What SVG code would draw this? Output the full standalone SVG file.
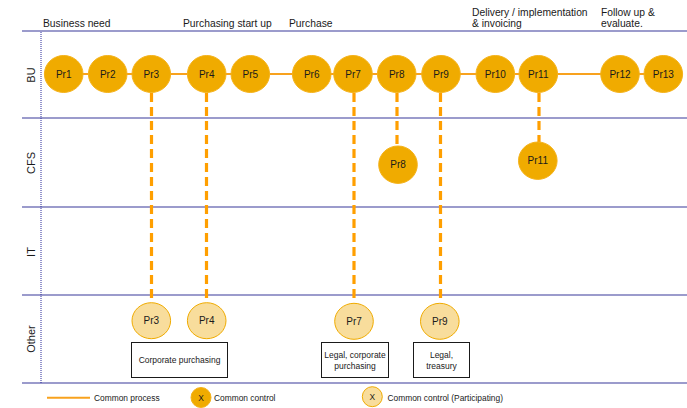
<svg xmlns="http://www.w3.org/2000/svg" width="687" height="408" viewBox="0 0 687 408">
  <style>
    text { font-family: "Liberation Sans", Arial, sans-serif; fill: #1a1a1a; }
    .hdr { font-size: 10.3px; }
    .lane { font-size: 11px; }
    .lbl { font-size: 10px; text-anchor: middle; dominant-baseline: central; }
    .box-t { font-size: 8.5px; text-anchor: middle; }
    .leg { font-size: 8.4px; }
    .sep { stroke: #9b9bcc; stroke-width: 2; }
    .proc { fill: #f0ab00; stroke: #f5b21a; stroke-width: 1; }
    .part { fill: #f8dd9c; stroke: #f0ab00; stroke-width: 1; }
    .flow { stroke: #f8a21e; stroke-width: 2; fill: none; }
    .link { stroke: #ff9f00; stroke-width: 3.2; stroke-dasharray: 9 5; fill: none; }
    .box { fill: #ffffff; stroke: #1a1a1a; stroke-width: 1; }
  </style>

  <!-- phase headings -->
  <g id="phases">
    <text class="hdr" x="43" y="27">Business need</text>
    <text class="hdr" x="183" y="27">Purchasing start up</text>
    <text class="hdr" x="289" y="27">Purchase</text>
    <text class="hdr" x="472" y="15.5">Delivery / implementation</text>
    <text class="hdr" x="472" y="27">&amp; invoicing</text>
    <text class="hdr" x="601" y="15.5">Follow up &amp;</text>
    <text class="hdr" x="601" y="27">evaluate.</text>
  </g>

  <!-- swimlanes -->
  <g id="lanes">
    <line class="sep" x1="22" y1="31" x2="687" y2="31"/>
    <line class="sep" x1="22" y1="118" x2="687" y2="118"/>
    <line class="sep" x1="22" y1="207" x2="687" y2="207"/>
    <line class="sep" x1="22" y1="295" x2="687" y2="295"/>
    <line class="sep" x1="22" y1="383" x2="687" y2="383"/>
    <line x1="41" y1="32" x2="41" y2="383" stroke="#2a2a9a" stroke-width="1" stroke-dasharray="1 1"/>
    <text class="lane" transform="translate(35 75) rotate(-90)" text-anchor="middle">BU</text>
    <text class="lane" transform="translate(35 163) rotate(-90)" text-anchor="middle">CFS</text>
    <text class="lane" transform="translate(35 252) rotate(-90)" text-anchor="middle">IT</text>
    <text class="lane" transform="translate(35 339) rotate(-90)" text-anchor="middle">Other</text>
  </g>

  <!-- connectors -->
  <g id="connectors">
    <line class="flow" x1="64" y1="74" x2="663" y2="74"/>
    <line class="link" x1="151.5" y1="93" x2="151.5" y2="303"/>
    <line class="link" x1="206.5" y1="93" x2="206.5" y2="303"/>
    <line class="link" x1="354" y1="93" x2="354" y2="303"/>
    <line class="link" x1="397" y1="93" x2="397" y2="146"/>
    <line class="link" x1="440.5" y1="93" x2="440.5" y2="303"/>
    <line class="link" x1="539" y1="93" x2="539" y2="142"/>
  </g>

  <!-- BU process steps -->
  <g id="bu-pr1"><ellipse class="proc" cx="63.7" cy="74" rx="19.3" ry="18.5"/><text class="lbl" x="63.7" y="74">Pr1</text></g>
  <g id="bu-pr2"><ellipse class="proc" cx="107.7" cy="74" rx="19.3" ry="18.5"/><text class="lbl" x="107.7" y="74">Pr2</text></g>
  <g id="bu-pr3"><ellipse class="proc" cx="151.3" cy="74" rx="19.3" ry="18.5"/><text class="lbl" x="151.3" y="74">Pr3</text></g>
  <g id="bu-pr4"><ellipse class="proc" cx="206.7" cy="74" rx="19.3" ry="18.5"/><text class="lbl" x="206.7" y="74">Pr4</text></g>
  <g id="bu-pr5"><ellipse class="proc" cx="250.3" cy="74" rx="19.3" ry="18.5"/><text class="lbl" x="250.3" y="74">Pr5</text></g>
  <g id="bu-pr6"><ellipse class="proc" cx="311.7" cy="74" rx="19.3" ry="18.5"/><text class="lbl" x="311.7" y="74">Pr6</text></g>
  <g id="bu-pr7"><ellipse class="proc" cx="353" cy="74" rx="19.3" ry="18.5"/><text class="lbl" x="353" y="74">Pr7</text></g>
  <g id="bu-pr8"><ellipse class="proc" cx="396.7" cy="74" rx="19.3" ry="18.5"/><text class="lbl" x="396.7" y="74">Pr8</text></g>
  <g id="bu-pr9"><ellipse class="proc" cx="441" cy="74" rx="19.3" ry="18.5"/><text class="lbl" x="441" y="74">Pr9</text></g>
  <g id="bu-pr10"><ellipse class="proc" cx="495.3" cy="74" rx="19.3" ry="18.5"/><text class="lbl" x="495.3" y="74">Pr10</text></g>
  <g id="bu-pr11"><ellipse class="proc" cx="538.3" cy="74" rx="19.3" ry="18.5"/><text class="lbl" x="538.3" y="74">Pr11</text></g>
  <g id="bu-pr12"><ellipse class="proc" cx="620" cy="74" rx="19.3" ry="18.5"/><text class="lbl" x="620" y="74">Pr12</text></g>
  <g id="bu-pr13"><ellipse class="proc" cx="663.3" cy="74" rx="19.3" ry="18.5"/><text class="lbl" x="663.3" y="74">Pr13</text></g>

  <!-- CFS steps -->
  <g id="cfs-pr8"><ellipse class="proc" cx="398" cy="164.7" rx="19.3" ry="18.7"/><text class="lbl" x="398" y="164.7">Pr8</text></g>
  <g id="cfs-pr11"><ellipse class="proc" cx="537.8" cy="160.7" rx="19.3" ry="18.7"/><text class="lbl" x="537.8" y="160.7">Pr11</text></g>

  <!-- Other: participating steps -->
  <g id="oth-pr3"><ellipse class="part" cx="151.3" cy="320.7" rx="19.3" ry="18"/><text class="lbl" x="151.3" y="320.7">Pr3</text></g>
  <g id="oth-pr4"><ellipse class="part" cx="206.7" cy="320.7" rx="19.3" ry="18"/><text class="lbl" x="206.7" y="320.7">Pr4</text></g>
  <g id="oth-pr7"><ellipse class="part" cx="354" cy="321.3" rx="19.3" ry="18"/><text class="lbl" x="354" y="321.3">Pr7</text></g>
  <g id="oth-pr9"><ellipse class="part" cx="439.8" cy="321.3" rx="19.3" ry="18"/><text class="lbl" x="439.8" y="321.3">Pr9</text></g>

  <!-- participant boxes -->
  <g id="box-corporate">
    <rect class="box" x="131.5" y="342.5" width="96" height="35"/>
    <text class="box-t" x="179.5" y="363">Corporate purchasing</text>
  </g>
  <g id="box-legal-corporate">
    <rect class="box" x="321.5" y="342.5" width="67" height="35"/>
    <text class="box-t" x="355" y="357.5">Legal, corporate</text>
    <text class="box-t" x="355" y="368.5">purchasing</text>
  </g>
  <g id="box-legal-treasury">
    <rect class="box" x="413.5" y="342.5" width="56" height="35"/>
    <text class="box-t" x="441.5" y="357.5">Legal,</text>
    <text class="box-t" x="441.5" y="368.5">treasury</text>
  </g>

  <!-- legend -->
  <g id="legend">
    <line class="flow" x1="47" y1="397.7" x2="90" y2="397.7"/>
    <text class="leg" x="94" y="400.5">Common process</text>
    <circle class="proc" cx="201" cy="397.5" r="10"/>
    <text class="leg" x="201" y="397.5" text-anchor="middle" dominant-baseline="central" font-size="9">X</text>
    <text class="leg" x="214" y="400.5">Common control</text>
    <circle class="part" cx="372.3" cy="396.7" r="10"/>
    <text class="leg" x="372.3" y="396.7" text-anchor="middle" dominant-baseline="central" font-size="9">X</text>
    <text class="leg" x="387.5" y="400.5">Common control (Participating)</text>
  </g>
</svg>
